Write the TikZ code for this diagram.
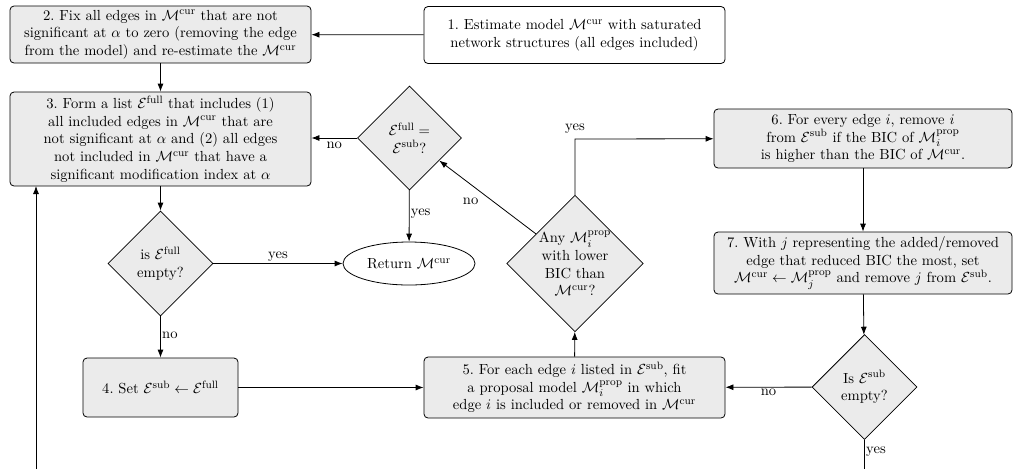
\documentclass[tikz,border=0pt]{standalone}
\usetikzlibrary{shapes.geometric,arrows.meta}
\definecolor{boxfill}{HTML}{EBEBEB}
\begin{document}
\begin{tikzpicture}[x=0.75pt,y=-0.75pt,
  every node/.style={font=\fontsize{10.95}{13.2}\selectfont},
  procbox/.style={draw, rounded corners=3pt, fill=boxfill, align=center, inner sep=2pt, line width=0.6pt},
  startbox/.style={procbox, fill=white},
  decision/.style={draw, diamond, aspect=1, fill=boxfill, align=center, inner sep=0pt, line width=0.6pt},
  endnode/.style={draw, ellipse, fill=white, inner sep=0pt, line width=0.6pt},
  flow/.style={draw, line width=0.6pt, -{Latex[length=6pt,width=4.5pt]}},
  plainline/.style={draw, line width=0.6pt},
  lbl/.style={inner sep=1pt}]
\useasboundingbox (0,0) rectangle (1013,469);

\node[startbox, minimum width=225.75pt, minimum height=42.75pt] (b1) at (574.5,35)
  {1.\ Estimate model $\mathcal{M}^{\mathrm{cur}}$ with saturated\\ network structures (all edges included)};
\node[procbox, minimum width=225.75pt, minimum height=42.75pt] (b2) at (160.5,34.5)
  {2.\ Fix all edges in $\mathcal{M}^{\mathrm{cur}}$ that are not\\ significant at $\alpha$ to zero (removing the edge\\ from the model) and re-estimate the $\mathcal{M}^{\mathrm{cur}}$};
\node[procbox, minimum width=225.75pt, minimum height=70.5pt] (b3) at (160.5,139)
  {3.\ Form a list $\mathcal{E}^{\mathrm{full}}$ that includes (1)\\ all included edges in $\mathcal{M}^{\mathrm{cur}}$ that are\\ not significant at $\alpha$ and (2) all edges\\ not included in $\mathcal{M}^{\mathrm{cur}}$ that have a\\ significant modification index at $\alpha$};
\node[decision, minimum width=78pt, minimum height=78pt] (dfs) at (409.5,138)
  {$\mathcal{E}^{\mathrm{full}}=$\\ $\mathcal{E}^{\mathrm{sub}}$?};
\node[decision, minimum width=78.75pt, minimum height=78.75pt] (dfe) at (160.5,263.5)
  {is $\mathcal{E}^{\mathrm{full}}$\\ empty?};
\node[endnode, minimum width=99pt, minimum height=32.25pt] (ret) at (409,263.5)
  {Return $\mathcal{M}^{\mathrm{cur}}$};
\node[procbox, minimum width=116.25pt, minimum height=44.25pt] (b4) at (160.5,387.5)
  {4.\ Set $\mathcal{E}^{\mathrm{sub}}\leftarrow\mathcal{E}^{\mathrm{full}}$};
\node[procbox, minimum width=225.75pt, minimum height=45.75pt] (b5) at (574.5,387.5)
  {5.\ For each edge $i$ listed in $\mathcal{E}^{\mathrm{sub}}$, fit\\ a proposal model $\mathcal{M}_i^{\mathrm{prop}}$ in which\\ edge $i$ is included or removed in $\mathcal{M}^{\mathrm{cur}}$};
\node[decision, minimum width=102pt, minimum height=102pt] (dany) at (575,263.5)
  {Any $\mathcal{M}_i^{\mathrm{prop}}$\\ with lower\\ BIC than\\ $\mathcal{M}^{\mathrm{cur}}$?};
\node[procbox, minimum width=223.5pt, minimum height=44.25pt] (b6) at (863,138.5)
  {6.\ For every edge $i$, remove $i$\\ from $\mathcal{E}^{\mathrm{sub}}$ if the BIC of $\mathcal{M}_i^{\mathrm{prop}}$\\ is higher than the BIC of $\mathcal{M}^{\mathrm{cur}}$.};
\node[procbox, minimum width=223.5pt, minimum height=46.5pt] (b7) at (863,263)
  {7.\ With $j$ representing the added/removed\\ edge that reduced BIC the most, set\\ $\mathcal{M}^{\mathrm{cur}}\leftarrow\mathcal{M}_j^{\mathrm{prop}}$ and remove $j$ from $\mathcal{E}^{\mathrm{sub}}$.};
\node[decision, minimum width=78.75pt, minimum height=78.75pt] (dse) at (864.5,387)
  {Is $\mathcal{E}^{\mathrm{sub}}$\\ empty?};

\coordinate (corner) at (575,139);
\coordinate (bottomR) at (864.5,469);
\coordinate (bottomL) at (36,469);
\coordinate (b3L) at (36,186);

\path[flow] (b1) -- (b2);
\path[flow] (b2) -- (b3);
\path[flow] (b3) -- (dfe);
\path[flow] (dfe) -- node[lbl, above] {yes} (ret);
\path[flow] (dfe) -- node[lbl, right, pos=0.45] {no} (b4);
\path[flow] (b4) -- (b5);
\path[flow] (b5) -- (dany);
\path[flow] (dany.north) -- (corner) -- node[lbl, pos=0, above=3pt] {yes} (b6);
\path[flow] (dany) -- node[lbl, pos=0.55, below left=2pt] {no} (dfs);
\path[flow] (dfs) -- node[lbl, below=2pt, pos=0.5] {no} (b3.east |- dfs);
\path[flow] (dfs) -- node[lbl, right, pos=0.45] {yes} (ret);
\path[flow] (b6) -- (b7);
\path[flow] (b7) -- (dse);
\path[flow] (dse) -- node[lbl, below, pos=0.5] {no} (b5);
\path[plainline] (dse) -- node[lbl, right, pos=0.4] {yes} (bottomR);
\path[flow] (bottomL) -- (b3L);
\end{tikzpicture}
\end{document}
